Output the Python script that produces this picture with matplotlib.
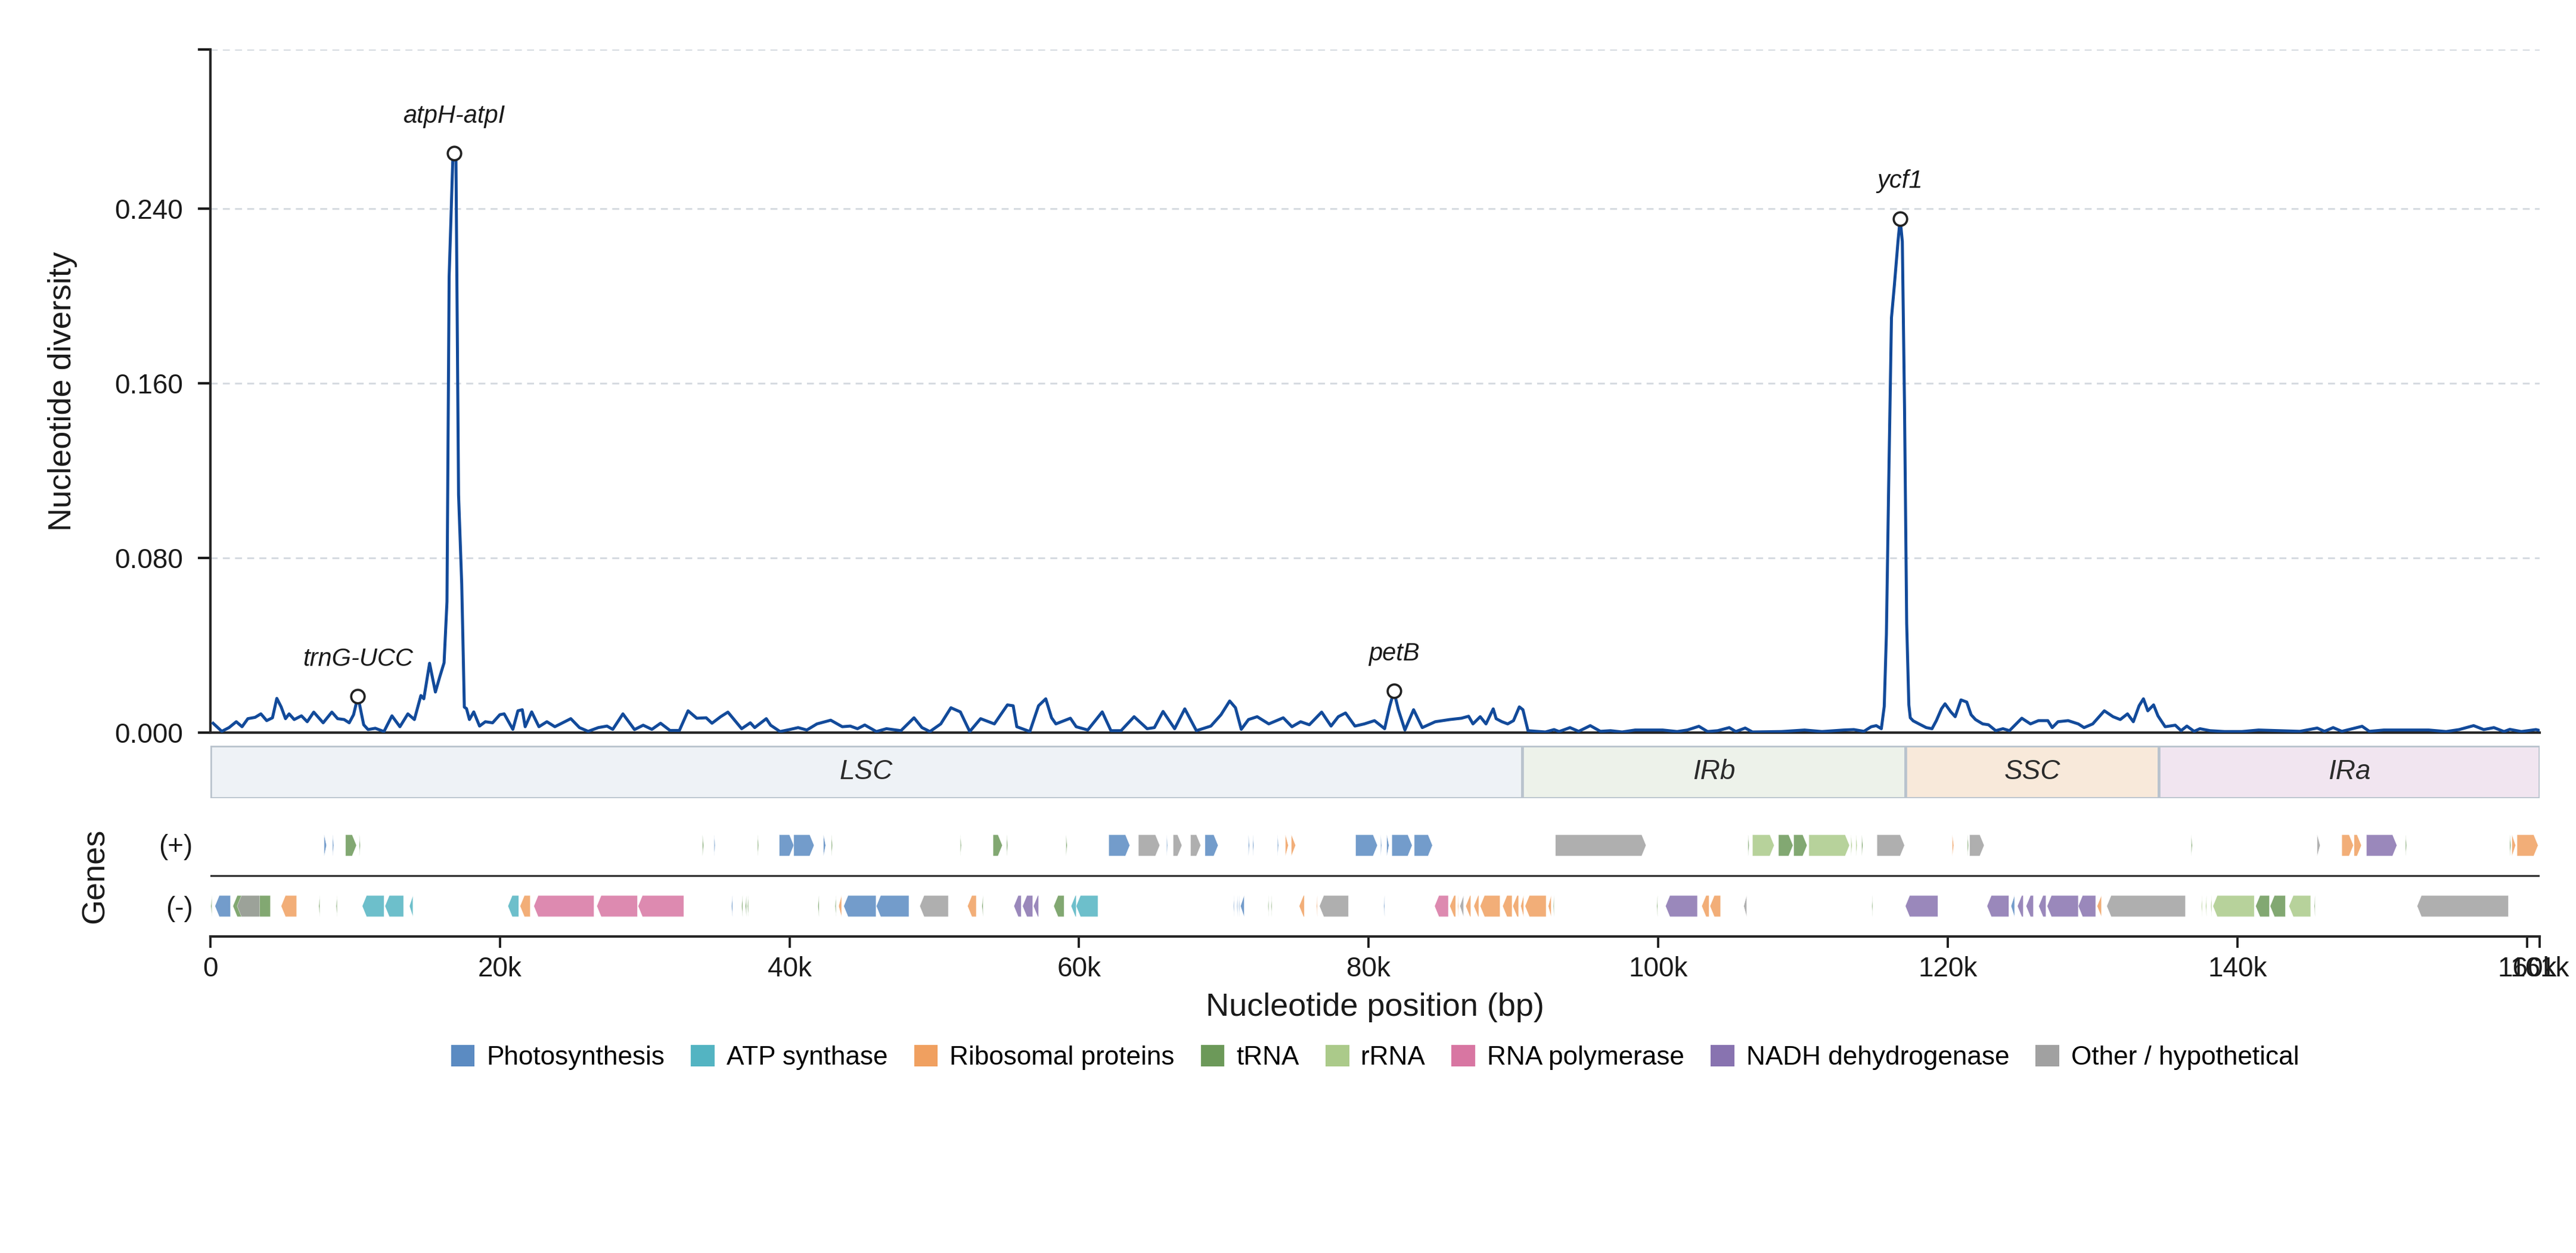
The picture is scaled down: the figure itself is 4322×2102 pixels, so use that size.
import matplotlib
matplotlib.use('Agg')
import matplotlib.pyplot as plt
from matplotlib.patches import Polygon, Rectangle, Patch

plt.rcParams['font.family'] = ['Liberation Sans', 'DejaVu Sans']

# genome length (bp)
genome_len = 160880

# sliding-window nucleotide diversity, window centre (kb) and Pi
pos_kb = [0.2, 0.8, 1.3, 1.8, 2.2, 2.6, 3.1, 3.5, 3.9, 4.3, 4.6, 4.9, 5.2, 5.45, 5.8,
          6.3, 6.7, 7.15, 7.8, 8.4, 8.8, 9.25, 9.6, 9.9, 10.2, 10.6, 10.9, 11.4, 12.0,
          12.55, 13.1, 13.65, 14.1, 14.55, 14.75, 15.15, 15.55, 15.85, 16.15, 16.35,
          16.5, 16.75, 16.85, 16.97, 17.15, 17.37, 17.55, 17.7, 17.9, 18.2, 18.6, 19.0,
          19.5, 20.0, 20.3, 20.9, 21.25, 21.55, 21.75, 22.2, 22.7, 23.25, 23.8, 24.9,
          25.5, 26.1, 26.8, 27.4, 27.8, 28.5, 29.3, 29.9, 30.5, 31.1, 31.75, 32.4, 33.0,
          33.6, 34.25, 34.65, 35.25, 35.75, 36.7, 37.3, 37.6, 38.4, 38.7, 39.35, 40.0,
          40.6, 41.2, 41.9, 42.85, 43.65, 44.2, 44.7, 45.2, 46.0, 46.7, 47.7, 48.6,
          49.15, 49.7, 50.45, 51.15, 51.8, 52.45, 53.2, 54.15, 55.05, 55.45, 55.7, 56.6,
          57.2, 57.7, 58.1, 58.4, 59.4, 59.8, 60.6, 61.6, 62.2, 62.9, 63.8, 64.7, 65.2,
          65.8, 66.6, 67.3, 68.1, 69.1, 69.8, 70.4, 70.8, 71.2, 71.7, 72.3, 73.1, 74.1,
          74.7, 75.3, 75.9, 76.75, 77.4, 77.9, 78.4, 79.05, 79.7, 80.4, 81.1, 81.45,
          81.74, 82.05, 82.5, 83.1, 83.7, 84.6, 85.6, 86.4, 86.9, 87.2, 87.7, 88.1, 88.6,
          88.8, 89.2, 89.6, 90.0, 90.4, 90.65, 91.0, 92.2, 92.8, 93.15, 93.9, 94.5, 95.3,
          96.0, 96.7, 97.5, 98.4, 99.4, 100.3, 101.3, 102.0, 102.8, 103.4, 104.1, 104.9,
          105.35, 106.0, 106.5, 108.5, 110.1, 111.3, 112.8, 113.5, 114.2, 114.7, 115.05,
          115.4, 115.6, 115.75, 115.9, 116.1, 116.3, 116.55, 116.7, 116.85, 117.0,
          117.15, 117.3, 117.4, 117.6, 118.0, 118.5, 118.9, 119.2, 119.55, 119.8, 120.2,
          120.5, 120.9, 121.3, 121.6, 121.9, 122.4, 122.8, 123.3, 123.8, 124.25, 125.1,
          125.7, 126.25, 126.9, 127.2, 127.6, 128.3, 129.0, 129.4, 130.0, 130.8, 131.4,
          131.9, 132.4, 132.8, 133.2, 133.5, 133.8, 134.2, 134.5, 135.0, 135.7, 136.1,
          136.5, 137.0, 137.4, 138.1, 139.1, 140.3, 141.45, 142.9, 144.3, 145.5, 146.0,
          146.6, 147.2, 148.6, 149.1, 150.1, 152.0, 153.2, 154.4, 155.3, 156.3, 157.0,
          157.7, 158.4, 158.8, 159.6, 160.6, 160.85]
pi_vals = [0.0043, 0.0006, 0.0023, 0.005, 0.0027, 0.0064, 0.007, 0.0086, 0.0055, 0.0068,
           0.0157, 0.0118, 0.0064, 0.0086, 0.006, 0.0077, 0.005, 0.0094, 0.0045, 0.0094,
           0.0064, 0.006, 0.0045, 0.0082, 0.0166, 0.0036, 0.0014, 0.002, 0.0005, 0.0077,
           0.0027, 0.0086, 0.006, 0.017, 0.0155, 0.0318, 0.0186, 0.0255, 0.032, 0.06,
           0.209, 0.262, 0.2654, 0.263, 0.109, 0.068, 0.0117, 0.011, 0.006, 0.0095, 0.003,
           0.005, 0.0045, 0.0082, 0.0086, 0.0015, 0.01, 0.0105, 0.0027, 0.0095, 0.0027,
           0.005, 0.0027, 0.0064, 0.0023, 0.0006, 0.0023, 0.003, 0.0015, 0.0086, 0.0014,
           0.0034, 0.0015, 0.0043, 0.001, 0.001, 0.01, 0.0066, 0.0068, 0.0043, 0.0073,
           0.0094, 0.0018, 0.0045, 0.0023, 0.0064, 0.0034, 0.0005, 0.0014, 0.0023, 0.0012,
           0.004, 0.0057, 0.0027, 0.003, 0.0018, 0.0035, 0.0005, 0.0018, 0.0009, 0.0068,
           0.0023, 0.0005, 0.004, 0.0114, 0.0095, 0.0005, 0.0064, 0.004, 0.0127, 0.0123,
           0.0027, 0.0005, 0.0123, 0.0155, 0.0068, 0.004, 0.0066, 0.0027, 0.0012, 0.0095,
           0.0009, 0.0009, 0.0073, 0.0018, 0.0023, 0.0097, 0.0018, 0.0109, 0.0009, 0.003,
           0.0082, 0.0145, 0.0114, 0.0015, 0.006, 0.0073, 0.004, 0.0068, 0.0027, 0.005,
           0.0036, 0.0094, 0.003, 0.0073, 0.009, 0.003, 0.004, 0.0055, 0.0018, 0.012,
           0.019, 0.0105, 0.0012, 0.0105, 0.0023, 0.005, 0.006, 0.0066, 0.0075, 0.004,
           0.0073, 0.004, 0.0109, 0.0064, 0.005, 0.004, 0.0055, 0.0118, 0.0105, 0.0009,
           0.0003, 0.0014, 0.0005, 0.0023, 0.0006, 0.0032, 0.0006, 0.0009, 0.0003, 0.0012,
           0.0012, 0.0012, 0.0005, 0.0012, 0.0029, 0.0005, 0.0009, 0.0023, 0.0005, 0.0021,
           0.0003, 0.0005, 0.0012, 0.0005, 0.0012, 0.0014, 0.0006, 0.0027, 0.0032, 0.0018,
           0.012, 0.045, 0.11, 0.19, 0.205, 0.225, 0.2355, 0.225, 0.15, 0.05, 0.0127,
           0.0068, 0.0054, 0.004, 0.0023, 0.0018, 0.0055, 0.0109, 0.0132, 0.0095, 0.0073,
           0.015, 0.014, 0.0082, 0.006, 0.004, 0.0036, 0.0009, 0.0018, 0.0009, 0.0066,
           0.004, 0.0055, 0.0055, 0.0023, 0.005, 0.0055, 0.004, 0.0023, 0.004, 0.01,
           0.0073, 0.006, 0.0086, 0.005, 0.0123, 0.0155, 0.01, 0.0127, 0.0077, 0.0027,
           0.0034, 0.0009, 0.003, 0.0006, 0.0018, 0.0009, 0.0005, 0.0005, 0.0012, 0.0009,
           0.0006, 0.0021, 0.0006, 0.0023, 0.0006, 0.0029, 0.0006, 0.0012, 0.0012, 0.0012,
           0.0005, 0.0014, 0.0032, 0.0014, 0.0023, 0.0005, 0.0015, 0.0005, 0.0014, 0.001]

# highlighted hotspots
peak_names = ['trnG-UCC', 'atpH-atpI', 'petB', 'ycf1']
peak_kb = [10.2, 16.85, 81.74, 116.7]
peak_pi = [0.0166, 0.2654, 0.019, 0.2355]

# quadripartite structure
region_names = ['LSC', 'IRb', 'SSC', 'IRa']
region_start = [0, 90600, 117060, 134560]
region_end = [90600, 117060, 134560, genome_len]
region_colors = ['#eef2f6', '#edf2ea', '#f8e9da', '#f1e5f0']

# functional categories
cat_names = ['Photosynthesis', 'ATP synthase', 'Ribosomal proteins', 'tRNA', 'rRNA',
             'RNA polymerase', 'NADH dehydrogenase', 'Other / hypothetical']
cat_colors = ['#5b8bc2', '#53b4c2', '#f0a060', '#6c9959', '#abca8a', '#d876a2',
              '#8873b0', '#a1a1a1']

# genes: (start kb, end kb, category index)
plus_genes = [
    (7.87, 8.03, 0), (8.45, 8.53, 0), (9.35, 10.1, 3), (10.3, 10.36, 3),
    (34.0, 34.07, 3), (34.8, 34.87, 0), (37.8, 37.87, 3), (39.3, 40.3, 0),
    (40.3, 41.7, 0), (42.35, 42.5, 0), (42.9, 42.97, 3), (51.8, 51.87, 3),
    (54.06, 54.7, 3), (55.0, 55.07, 3), (59.1, 59.17, 3), (62.05, 63.5, 0),
    (64.1, 65.57, 7), (66.05, 66.11, 0), (66.5, 67.1, 7), (67.7, 68.4, 7),
    (68.7, 69.6, 0), (71.7, 71.76, 0), (72.0, 72.06, 0), (73.7, 73.77, 0),
    (74.25, 74.45, 2), (74.66, 74.95, 2), (79.1, 80.6, 0), (80.83, 80.89, 0),
    (81.25, 81.4, 0), (81.6, 83.0, 0), (83.15, 84.4, 0), (92.9, 99.15, 7),
    (106.2, 106.27, 3), (106.5, 108.0, 4), (108.3, 109.3, 3), (109.35, 110.27, 3),
    (110.4, 113.2, 4), (113.3, 113.38, 4), (113.65, 113.73, 4), (114.05, 114.12, 3),
    (115.1, 117.0, 7), (120.3, 120.4, 2), (121.35, 121.42, 3), (121.5, 122.5, 7),
    (136.8, 136.87, 3), (145.5, 145.7, 7), (147.2, 148.0, 2), (148.05, 148.55, 2),
    (148.9, 151.0, 6), (151.6, 151.67, 3), (158.8, 158.87, 3), (158.95, 159.2, 2),
    (159.3, 160.75, 2),
]
minus_genes = [
    (0.05, 0.12, 3), (0.33, 1.4, 0), (1.57, 4.16, 3), (1.86, 3.42, 7), (4.9, 5.97, 2),
    (7.5, 7.57, 3), (8.7, 8.77, 3), (10.5, 12.0, 1), (12.07, 13.35, 1), (13.76, 14.0, 1),
    (20.56, 21.3, 1), (21.4, 22.1, 2), (22.35, 26.5, 5), (26.7, 29.5, 5), (29.55, 32.7, 5),
    (36.0, 36.07, 0), (36.7, 36.77, 3), (36.96, 37.03, 3), (37.1, 37.17, 3),
    (41.97, 42.04, 3), (43.15, 43.22, 3), (43.4, 43.6, 2), (43.75, 45.98, 0),
    (46.0, 48.25, 0), (49.0, 50.97, 7), (52.3, 52.9, 2), (53.3, 53.37, 3),
    (55.5, 56.0, 6), (56.1, 56.8, 6), (56.85, 57.2, 6), (58.25, 58.96, 3),
    (59.45, 59.8, 1), (59.8, 61.3, 1), (70.66, 70.71, 0), (70.9, 70.95, 0),
    (71.03, 71.08, 0), (71.15, 71.4, 0), (73.05, 73.1, 3), (73.26, 73.31, 3),
    (75.2, 75.55, 2), (76.4, 76.45, 2), (76.6, 78.6, 7), (81.05, 81.1, 0),
    (84.55, 85.5, 5), (85.6, 86.0, 2), (86.15, 86.2, 2), (86.3, 86.55, 7),
    (86.7, 87.05, 2), (87.26, 87.6, 2), (87.7, 89.07, 2), (89.25, 89.9, 2),
    (89.95, 90.35, 2), (90.5, 90.7, 2), (90.8, 92.25, 2), (92.4, 92.6, 2),
    (92.75, 92.8, 3), (99.9, 99.95, 3), (100.5, 102.7, 6), (103.0, 103.5, 2),
    (103.57, 104.3, 2), (105.9, 106.1, 7), (114.75, 114.8, 3), (117.06, 119.3, 6),
    (122.7, 124.2, 6), (124.36, 124.6, 0), (124.8, 125.2, 6), (125.4, 125.9, 6),
    (126.27, 126.77, 6), (126.85, 129.0, 6), (129.0, 130.2, 6), (130.3, 130.6, 2),
    (130.97, 136.4, 7), (137.5, 137.56, 4), (137.8, 137.86, 4), (138.15, 138.22, 4),
    (138.3, 141.15, 4), (141.25, 142.2, 3), (142.25, 143.3, 3), (143.55, 145.05, 4),
    (145.3, 145.35, 3), (152.4, 158.7, 7),
]


def gene_arrow(s, e, strand, y, h=0.7, head=300):
    hl = min(head, e - s)
    if strand > 0:
        pts = [(s, y - h / 2), (e - hl, y - h / 2), (e, y), (e - hl, y + h / 2), (s, y + h / 2)]
    else:
        pts = [(e, y - h / 2), (s + hl, y - h / 2), (s, y), (s + hl, y + h / 2), (e, y + h / 2)]
    return pts


fig = plt.figure(figsize=(4322 / 300, 2102 / 300), dpi=300)
left, width = 0.0816, 0.9044
ax = fig.add_axes([left, 0.4153, width, 0.5452])
ax_reg = fig.add_axes([left, 0.3628, width, 0.0420])
ax_gen = fig.add_axes([left, 0.2526, width, 0.0970])

text_col = '#1a1a1a'
spine_col = '#262626'

# --- diversity curve
x_bp = [p * 1000 for p in pos_kb]
ax.plot(x_bp, pi_vals, color='#124a9a', lw=1.2, zorder=3)
ax.plot([p * 1000 for p in peak_kb], peak_pi, 'o', ms=5.4, mfc='white', mec='#222222',
        mew=0.9, zorder=4)
for name, xk, yv in zip(peak_names, peak_kb, peak_pi):
    ax.annotate(name, (xk * 1000, yv), xytext=(0, 15), textcoords='offset points',
                ha='center', va='center', fontsize=10, style='italic', color=text_col)

ymax = 0.313
ax.set_xlim(0, genome_len)
ax.set_ylim(0, ymax)
ax.set_yticks([0, 0.08, 0.16, 0.24, ymax])
ax.set_yticklabels(['0.000', '0.080', '0.160', '0.240', ''])
ax.tick_params(axis='y', labelsize=11, length=5, width=1.0, pad=6, colors=text_col)
ax.tick_params(axis='x', bottom=False, labelbottom=False)
ax.grid(axis='y', ls=(0, (4, 3)), color='#d5dae0', lw=0.7)
ax.set_axisbelow(True)
for side in ['top', 'right']:
    ax.spines[side].set_visible(False)
for side in ['left', 'bottom']:
    ax.spines[side].set_color(spine_col)
    ax.spines[side].set_linewidth(1.0)
fig.text(0.0243, 0.4153 + 0.5452 / 2, 'Nucleotide diversity', rotation=90,
         ha='center', va='center', fontsize=13, color=text_col)

# --- region bar
for name, s, e, c in zip(region_names, region_start, region_end, region_colors):
    ax_reg.add_patch(Rectangle((s, 0), e - s, 1, facecolor=c, edgecolor='#b9c3cd', lw=1.1))
    ax_reg.text((s + e) / 2, 0.5, name, ha='center', va='center', fontsize=11,
                style='italic', color='#2b2b2b')
ax_reg.set_xlim(0, genome_len)
ax_reg.set_ylim(0, 1)
ax_reg.axis('off')

# --- gene track
for genes, strand, yc in [(plus_genes, 1, 1.0), (minus_genes, -1, -1.0)]:
    for s, e, ci in genes:
        poly = Polygon(gene_arrow(s * 1000, e * 1000, strand, yc), closed=True,
                       facecolor=cat_colors[ci], edgecolor='white', lw=0.12, alpha=0.85)
        ax_gen.add_patch(poly)
ax_gen.axhline(0, color='#333333', lw=0.8)
ax_gen.set_xlim(0, genome_len)
ax_gen.set_ylim(-2.0, 2.0)
ax_gen.set_yticks([1.05, -1])
ax_gen.set_yticklabels(['(+)', '(-)'])
ax_gen.tick_params(axis='y', length=0, pad=7, labelsize=11, colors=text_col)
xt = [0, 20000, 40000, 60000, 80000, 100000, 120000, 140000, 160000, genome_len]
ax_gen.set_xticks(xt)
ax_gen.set_xticklabels(['0'] + [f'{int(round(v / 1000))}k' for v in xt[1:]])
ax_gen.tick_params(axis='x', length=4.5, width=0.9, labelsize=11, colors=text_col)
for side in ['top', 'right', 'left']:
    ax_gen.spines[side].set_visible(False)
ax_gen.spines['bottom'].set_color(spine_col)
ax_gen.spines['bottom'].set_linewidth(1.0)
fig.text(0.037, 0.2526 + 0.097 / 2, 'Genes', rotation=90, ha='center', va='center',
         fontsize=13, color=text_col)
fig.text(left + width / 2, 0.196, 'Nucleotide position (bp)', ha='center', va='center',
         fontsize=13, color=text_col)

handles = [Patch(facecolor=c, edgecolor='none', label=n) for n, c in zip(cat_names, cat_colors)]
fig.legend(handles=handles, loc='center', bbox_to_anchor=(left + width / 2, 0.156), ncol=8,
           frameon=False, fontsize=10.6, handlelength=0.9, handleheight=0.9,
           handletextpad=0.45, columnspacing=1.0)

fig.savefig('out.png', dpi=300)
